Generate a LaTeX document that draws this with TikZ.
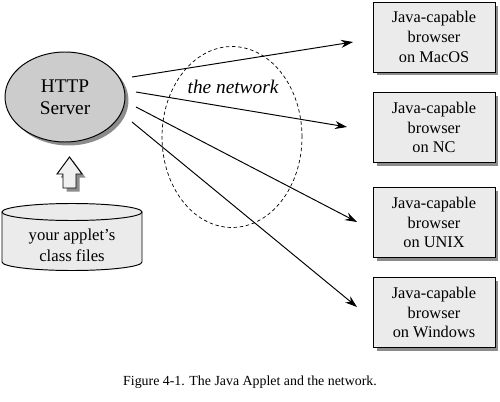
\documentclass[tikz,border=0pt]{standalone}
\usepackage{fontspec}
\setmainfont{Liberation Serif}
\usetikzlibrary{shapes.geometric,shadows,arrows.meta}
\begin{document}
\begin{tikzpicture}[x=0.02cm,y=-0.02cm,line width=0.55pt,
  shade/.style={drop shadow={fill=black!45,opacity=1,shadow xshift=0.07cm,shadow yshift=-0.07cm}},
  browser/.style={draw,fill=black!8,shade,minimum width=2.44cm,minimum height=1.4cm,
    align=center,font=\fontsize{9.3}{11.3}\selectfont},
  net/.style={-{Stealth[length=0.24cm,width=0.16cm]}}]
  \useasboundingbox (0,0) rectangle (500,402);
  % server and the network
  \node (S) at (65,97) [ellipse,draw,fill=black!20,shade,minimum width=2.4cm,minimum height=1.8cm,
    align=center,font=\fontsize{11}{12.5}\selectfont] {HTTP\\Server};
  \node (N) at (232,137) [ellipse,draw,dash pattern=on 2pt off 1.5pt,line width=0.4pt,
    minimum width=2.8cm,minimum height=3.62cm] {};
  \node (T) at (233,87) [font=\fontsize{11}{13}\selectfont\itshape] {the network};
  % browsers
  \node (mac) at (434,37) [browser] {Java-capable\\browser\\on MacOS};
  \node (nc) at (434,127.5) [browser] {Java-capable\\browser\\on NC};
  \node (unix) at (434,222.5) [browser] {Java-capable\\browser\\on UNIX};
  \node (win) at (434,312.5) [browser] {Java-capable\\browser\\on Windows};
  % arrow ends, short of the boxes
  \coordinate (s1) at (132,77);  \coordinate (t1) at (353,42);
  \coordinate (s2) at (136,92);  \coordinate (t2) at (347,127);
  \coordinate (s3) at (136,107); \coordinate (t3) at (357,222);
  \coordinate (s4) at (132,122); \coordinate (t4) at (357,307);
  \draw[net] (s1) -- (t1);
  \draw[net] (s2) -- (t2);
  \draw[net] (s3) -- (t3);
  \draw[net] (s4) -- (t4);
  % class files store
  \fill[black!8] (2,212) -- (2,262) arc[start angle=180,end angle=0,x radius=70,y radius=8.5] -- (142,212) -- cycle;
  \draw (2,212) -- (2,262) arc[start angle=180,end angle=0,x radius=70,y radius=8.5] -- (142,212);
  \draw[fill=black!8] (72,212) ellipse [x radius=70,y radius=8.5];
  \node (F) at (72,245.5) [align=center,font=\fontsize{9.5}{12}\selectfont] {your applet's\\class files};
  % upload arrow
  \draw[fill=black!6,shade] (63,188) -- (63,174) -- (57,174) -- (69.5,157) -- (82,174) -- (76,174) -- (76,188) -- cycle;
  % caption
  \node (C) at (250,382) [font=\fontsize{7.9}{9}\selectfont] {Figure 4-1. The Java Applet and the network.};
\end{tikzpicture}
\end{document}
